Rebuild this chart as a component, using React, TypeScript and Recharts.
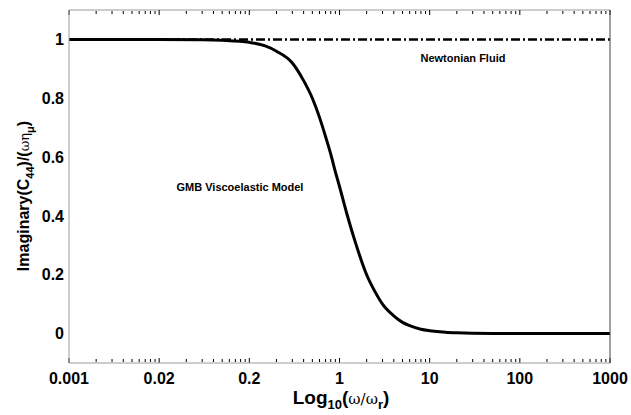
import React from "react";
import { LineChart, Line, XAxis, YAxis, ReferenceDot } from "recharts";

// frequency ratio w/wr and normalised imaginary part
const freqRatio = [
  0.001, 0.01, 0.03, 0.05, 0.1, 0.15, 0.2, 0.3, 0.4, 0.5, 0.6, 0.7, 0.8, 0.9,
  1, 1.2, 1.5, 2, 2.5, 3, 4, 5, 6, 8, 10, 15, 20, 30, 50, 100, 1000,
];
const gmbModel = [
  1, 1, 0.999, 0.997, 0.99, 0.978, 0.96, 0.92, 0.86, 0.8, 0.735, 0.67, 0.61,
  0.55, 0.5, 0.41, 0.31, 0.2, 0.14, 0.1, 0.06, 0.038, 0.027, 0.015, 0.01,
  0.0045, 0.0025, 0.001, 0.0004, 0.0001, 0,
];
const newtonianX = [0.001, 1000];
const newtonianY = [1, 1];

const majorTicks = [0.001, 0.01, 0.1, 1, 10, 100, 1000];
const majorLabels = ["0.001", "0.02", "0.2", "1", "10", "100", "1000"];
const minorTicks = [
  0.002, 0.003, 0.004, 0.005, 0.006, 0.007, 0.008, 0.009,
  0.02, 0.03, 0.04, 0.05, 0.06, 0.07, 0.08, 0.09,
  0.2, 0.3, 0.4, 0.5, 0.6, 0.7, 0.8, 0.9,
  2, 3, 4, 5, 6, 7, 8, 9,
  20, 30, 40, 50, 60, 70, 80, 90,
  200, 300, 400, 500, 600, 700, 800, 900,
];
const yTicks = [0, 0.2, 0.4, 0.6, 0.8, 1];

const curveData = freqRatio.map((x, i) => ({ x, y: gmbModel[i] }));
const newtonianData = newtonianX.map((x, i) => ({ x, y: newtonianY[i] }));

const FONT = "'Liberation Sans', Arial, sans-serif";
const AXIS_GRAY = "#9a9a9a";
const tickFont = { fontFamily: FONT, fontSize: 16, fontWeight: 700, fill: "#000" };
const noLabel = () => <g />;

const note = (text: string) => (props: any) => {
  const { viewBox } = props;
  const cx = viewBox.x + (viewBox.width || 0) / 2;
  const cy = viewBox.y + (viewBox.height || 0) / 2;
  return (
    <text x={cx} y={cy} textAnchor="middle" dominantBaseline="central"
      style={{ fontFamily: FONT, fontSize: 11, fontWeight: 700 }} fill="#000">
      {text}
    </text>
  );
};

const xProps = {
  xAxisId: "bx",
  type: "number" as const,
  dataKey: "x",
  scale: "log" as const,
  domain: [0.001, 1000],
  allowDataOverflow: true,
};

export default function App() {
  return (
    <div style={{ position: "absolute", left: 0, top: 0, width: 631, height: 415, background: "#fff" }}>
      <LineChart width={631} height={415} margin={{ top: 10, right: 21, bottom: 0, left: 0 }}>
        {/* inward tick marks */}
        <XAxis {...xProps} xAxisId="bmaj" orientation="bottom" mirror height={1}
          ticks={majorTicks} tick={noLabel} tickSize={5} axisLine={false}
          tickLine={{ stroke: "#000" }} interval={0} />
        <XAxis {...xProps} xAxisId="bmin" orientation="bottom" mirror height={1}
          ticks={minorTicks} tick={noLabel} tickSize={3} axisLine={false}
          tickLine={{ stroke: "#000" }} interval={0} />
        <XAxis {...xProps} xAxisId="tmaj" orientation="top" mirror height={1}
          ticks={majorTicks} tick={noLabel} tickSize={5} axisLine={{ stroke: AXIS_GRAY }}
          tickLine={{ stroke: "#000" }} interval={0} />
        <XAxis {...xProps} xAxisId="tmin" orientation="top" mirror height={1}
          ticks={minorTicks} tick={noLabel} tickSize={3} axisLine={false}
          tickLine={{ stroke: "#000" }} interval={0} />
        <XAxis {...xProps} orientation="bottom" height={52} ticks={majorTicks}
          interval={0} tickLine={false} tickSize={6} tickMargin={4}
          axisLine={{ stroke: AXIS_GRAY }} tick={tickFont}
          tickFormatter={(v: number) => majorLabels[majorTicks.indexOf(v)] ?? ""} />

        <YAxis yAxisId="ly" type="number" domain={[-0.1, 1.1]} ticks={yTicks}
          width={69} interval={0} tickLine={false} tickSize={0} tickMargin={5}
          axisLine={{ stroke: AXIS_GRAY }} tick={tickFont}
          tickFormatter={(v: number) => String(v)} allowDataOverflow />
        <YAxis yAxisId="lm" orientation="left" mirror width={1} type="number"
          domain={[-0.1, 1.1]} ticks={yTicks} tick={noLabel} tickSize={4}
          axisLine={false} tickLine={{ stroke: "#000" }} interval={0} />
        <YAxis yAxisId="rm" orientation="right" mirror width={1} type="number"
          domain={[-0.1, 1.1]} ticks={yTicks} tick={noLabel} tickSize={4}
          axisLine={{ stroke: "#444" }} tickLine={{ stroke: "#000" }} interval={0} />

        <Line data={newtonianData} xAxisId="bx" yAxisId="ly" dataKey="y" type="linear"
          stroke="#000" strokeWidth={2.5} strokeDasharray="9 3 2 3" dot={false}
          isAnimationActive={false} />
        <Line data={curveData} xAxisId="bx" yAxisId="ly" dataKey="y" type="monotone"
          stroke="#000" strokeWidth={3} dot={false} isAnimationActive={false} />

        <ReferenceDot xAxisId="bx" yAxisId="ly" x={23.4} y={0.936} r={0}
          fill="none" stroke="none" label={note("Newtonian Fluid")} />
        <ReferenceDot xAxisId="bx" yAxisId="ly" x={0.0787} y={0.498} r={0}
          fill="none" stroke="none" label={note("GMB Viscoelastic Model")} />
      </LineChart>

      <svg width={631} height={415} style={{ position: "absolute", left: 0, top: 0, pointerEvents: "none" }}>
        <text x={341} y={404} textAnchor="middle" fill="#000"
          style={{ fontFamily: FONT, fontSize: 19, fontWeight: 700 }}>
          Log<tspan fontSize={13} dy={5}>10</tspan>
          <tspan dy={-5}>(</tspan>
          <tspan fontWeight={400} fontFamily="'DejaVu Serif', serif" fontSize={15}>ω/ω</tspan>
          <tspan fontSize={13} dy={5}>r</tspan>
          <tspan dy={-5}>)</tspan>
        </text>
        <text transform="translate(29,196) rotate(-90)" textAnchor="middle" fill="#000"
          style={{ fontFamily: FONT, fontSize: 16, fontWeight: 700 }}>
          Imaginary(C<tspan fontSize={11} dy={5}>44</tspan>
          <tspan dy={-5}>)/(</tspan>
          <tspan fontWeight={400} fontFamily="'DejaVu Serif', serif" fontSize={13}>ωη</tspan>
          <tspan fontSize={11} dy={5}>μ</tspan>
          <tspan dy={-5}>)</tspan>
        </text>
      </svg>
    </div>
  );
}
